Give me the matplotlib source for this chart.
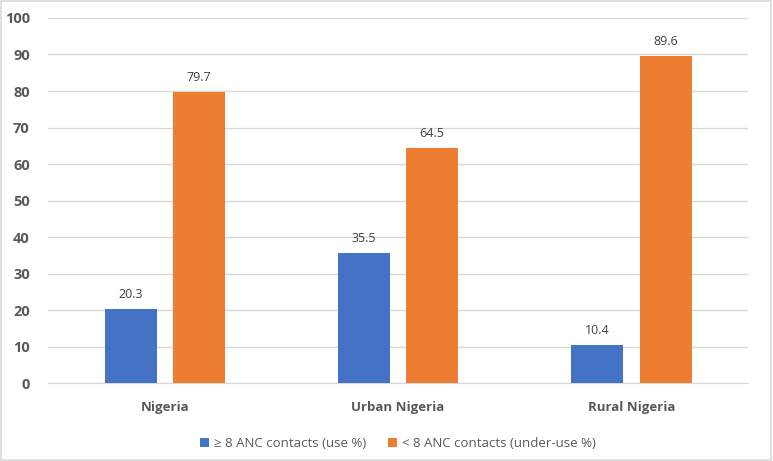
import numpy as np
import matplotlib.pyplot as plt

categories = ['Nigeria', 'Urban Nigeria', 'Rural Nigeria']
use_pct = [20.3, 35.5, 10.4]
underuse_pct = [79.7, 64.5, 89.6]
series_names = ['\u2265 8 ANC contacts (use %)', '< 8 ANC contacts (under-use %)']

blue = '#4472C4'
orange = '#ED7D31'
grey_txt = '#595959'

plt.rcParams['font.family'] = ['Open Sans', 'DejaVu Sans']

fig = plt.figure(figsize=(7.73, 4.61), dpi=100)
ax = fig.add_axes([0.062, 0.169, 0.906, 0.792])

x = np.arange(len(categories))
w = 0.223
off = 0.146
b1 = ax.bar(x - off, use_pct, w, color=blue, label=series_names[0], zorder=3)
b2 = ax.bar(x + off, underuse_pct, w, color=orange, label=series_names[1], zorder=3)

for bars, vals in ((b1, use_pct), (b2, underuse_pct)):
    for r, v in zip(bars, vals):
        ax.text(r.get_x() + r.get_width() / 2, v + 2.2, f'{v:.1f}', ha='center',
                va='bottom', fontsize=9, color='#404040')

ax.set_xlim(-0.5, 2.5)
ax.set_ylim(0, 100)
ax.set_yticks(range(0, 101, 10))
ax.set_xticks(x)
ax.set_xticklabels(categories, fontweight='bold', fontsize=9.5, color=grey_txt)
ax.tick_params(axis='y', labelsize=10.5, labelcolor=grey_txt, length=0, pad=13)
for lab in ax.get_yticklabels():
    lab.set_fontweight('bold')
ax.tick_params(axis='x', length=0, pad=13)
ax.grid(axis='y', color='#D9D9D9', linewidth=1, zorder=0)
for s in ['top', 'right', 'left']:
    ax.spines[s].set_visible(False)
ax.spines['bottom'].set_color('#D9D9D9')

ax.legend(loc='upper center', bbox_to_anchor=(0.5, -0.115), ncol=2, frameon=False,
          fontsize=9.5, labelcolor=grey_txt, handlelength=0.7, handleheight=0.7,
          handletextpad=0.4, columnspacing=1.6)

fig.patches.append(plt.Rectangle((0.001, 0.002), 0.997, 0.996, transform=fig.transFigure,
                                 fill=False, edgecolor='#D9D9D9', linewidth=1.2))

fig.savefig('out.png', dpi=100)
